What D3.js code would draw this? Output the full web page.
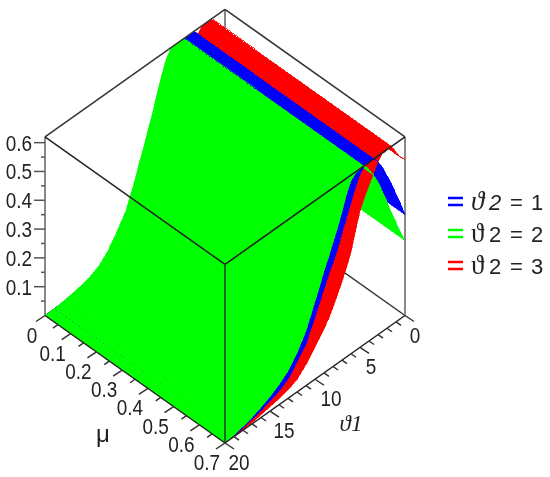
<!DOCTYPE html>
<html>
<head>
<meta charset="utf-8">
<style>
  html, body { margin: 0; padding: 0; background: #fff; }
  svg { display: block; filter: blur(0.4px); }
  .tick { font-family: "Liberation Sans", sans-serif; font-size: 22px; fill: #222; }
  .legend-text { font-family: "Liberation Sans", sans-serif; font-size: 22px; fill: #222; }
</style>
<script src="https://cdn.jsdelivr.net/npm/d3@7"></script>
</head>
<body>
<div id="viz"></div>
<script>
const theta1 = [0, 0.5, 1, 1.5, 2, 2.5, 3, 3.5, 4, 4.5, 5, 5.5, 6, 6.5, 7, 7.5, 8, 8.5, 9, 9.5, 10, 11, 12, 13, 14, 15, 16, 17, 18, 19, 20];
const blueZ = [0.35, 0.40, 0.445, 0.49, 0.53, 0.57, 0.60, 0.62, 0.62, 0.62, 0.60, 0.567, 0.525, 0.484, 0.443, 0.396, 0.36, 0.328, 0.29, 0.253, 0.215, 0.143, 0.103, 0.066, 0.047, 0.034, 0.024, 0.015, 0.008, 0.003, 0];
const blueZMu0 = [0.35, 0.40, 0.445, 0.49, 0.53, 0.57, 0.60, 0.62, 0.62, 0.62, 0.60, 0.567, 0.525, 0.484, 0.443, 0.396, 0.36, 0.328, 0.29, 0.253, 0.215, 0.143, 0.103, 0.06, 0.032, 0.02, 0.012, 0.007, 0.003, 0.0007, 0];
// green bends a little differently at the two ends of mu
const greenZ = [0.26, 0.30, 0.345, 0.39, 0.44, 0.485, 0.53, 0.565, 0.595, 0.617, 0.62, 0.615, 0.60, 0.565, 0.515, 0.47, 0.43, 0.39, 0.353, 0.31, 0.27, 0.19, 0.135, 0.095, 0.07, 0.05, 0.035, 0.022, 0.013, 0.005, 0];
const greenZMu0 = [0.26, 0.30, 0.345, 0.39, 0.44, 0.485, 0.53, 0.565, 0.595, 0.617, 0.62, 0.62, 0.618, 0.595, 0.55, 0.50, 0.445, 0.395, 0.345, 0.30, 0.25, 0.165, 0.115, 0.07, 0.04, 0.024, 0.015, 0.009, 0.004, 0.001, 0];
const redZ = [0.54, 0.56, 0.59, 0.62, 0.62, 0.62, 0.60, 0.57, 0.54, 0.51, 0.473, 0.415, 0.352, 0.31, 0.272, 0.238, 0.205, 0.175, 0.153, 0.132, 0.113, 0.073, 0.043, 0.029, 0.021, 0.015, 0.009, 0.004, 0.002, 0.001, 0];

const muTicks = [0, 0.1, 0.2, 0.3, 0.4, 0.5, 0.6, 0.7];
const muMinor = [0.05, 0.15, 0.25, 0.35, 0.45, 0.55, 0.65];
const thetaTicks = [0, 5, 10, 15, 20];
const thetaMinor = [1, 2, 3, 4, 6, 7, 8, 9, 11, 12, 13, 14, 16, 17, 18, 19];
const zTicks = [0.1, 0.2, 0.3, 0.4, 0.5, 0.6];
const zMinor = [0.05, 0.15, 0.25, 0.35, 0.45, 0.55];
const legendValues = ["1", "2", "3"];
const legendColors = ["#0000ff", "#00ff00", "#ff0000"];

const width = 550, height = 477;
const svg = d3.select("#viz").append("svg")
  .attr("width", width)
  .attr("height", height)
  .attr("viewBox", `0 0 ${width} ${height}`);

// back corner of the floor is mu=0, theta1=0
const muX = d3.scaleLinear().domain([0, 0.7]).range([0, 180]);
const muY = d3.scaleLinear().domain([0, 0.7]).range([0, 127.5]);
const thX = d3.scaleLinear().domain([0, 20]).range([0, -180]);
const thY = d3.scaleLinear().domain([0, 20]).range([0, 127.5]);
const zY = d3.scaleLinear().domain([0, 0.62]).range([0, -178.6]);
const project = (mu, th, z) => [225 + muX(mu) + thX(th), 188 + muY(mu) + thY(th) + zY(z)];

const zTop = 0.62;
const line = d3.line();
const edge = (g, a, b, color, w) => g.append("path")
  .attr("d", line([project(...a), project(...b)]))
  .attr("fill", "none")
  .attr("stroke", color)
  .attr("stroke-width", w);

// box lines behind the surfaces
const back = svg.append("g");
edge(back, [0, 0, 0], [0, 0, zTop], "#888", 2);
edge(back, [0, 0, 0], [0.7, 0, 0], "#333", 1.5);
edge(back, [0, 0, 0], [0, 20, 0], "#333", 1.5);
edge(back, [0, 20, 0], [0, 20, zTop], "#888", 2);
edge(back, [0.7, 0, 0], [0.7, 0, zTop], "#888", 2);

// strips of all three surfaces, painted from the back to the front
const series = [
  {color: "#ff0000", z0: redZ, z7: redZ},
  {color: "#0000ff", z0: blueZMu0, z7: blueZ},
  {color: "#00ff00", z0: greenZMu0, z7: greenZ}
];
const strips = [];
series.forEach(s => {
  d3.pairs(d3.range(theta1.length)).forEach(([i, j]) => {
    strips.push({i, j, mean: (s.z7[i] + s.z7[j]) / 2, color: s.color, s});
  });
});
strips.sort((a, b) => d3.ascending(a.i, b.i) || d3.ascending(a.mean, b.mean));

svg.append("g").selectAll("path")
  .data(strips)
  .join("path")
    .attr("d", d => line([
      project(0, theta1[d.i], d.s.z0[d.i]),
      project(0.7, theta1[d.i], d.s.z7[d.i]),
      project(0.7, theta1[d.j], d.s.z7[d.j]),
      project(0, theta1[d.j], d.s.z0[d.j])
    ]) + "Z")
    .attr("fill", d => d.color)
    .attr("stroke", d => d.color)
    .attr("stroke-width", 0.6)
    .attr("shape-rendering", "crispEdges");

// box lines in front
const front = svg.append("g");
edge(front, [0, 0, zTop], [0.7, 0, zTop], "#333", 1.5);
edge(front, [0, 0, zTop], [0, 20, zTop], "#333", 1.5);
edge(front, [0, 20, zTop], [0.7, 20, zTop], "#222", 1.5);
edge(front, [0.7, 0, zTop], [0.7, 20, zTop], "#222", 1.5);
edge(front, [0.7, 20, 0], [0.7, 20, zTop], "#1d6b1d", 2);
edge(front, [0, 20, 0], [0.7, 20, 0], "#222", 1.5);
edge(front, [0.7, 0, 0], [0.7, 20, 0], "#222", 1.5);

// axis ticks
const axes = svg.append("g");
const tickAt = (pt, dx, dy, color) => axes.append("path")
  .attr("d", line([pt, [pt[0] + dx, pt[1] + dy]]))
  .attr("stroke", color)
  .attr("stroke-width", 1.5);

zTicks.forEach(z => tickAt(project(0, 20, z), -11, 0, "#555"));
zMinor.forEach(z => tickAt(project(0, 20, z), -4, 0, "#555"));
muTicks.forEach(m => tickAt(project(m, 20, 0), -9, 6, "#333"));
muMinor.forEach(m => tickAt(project(m, 20, 0), -5, 3.5, "#333"));
thetaTicks.forEach(t => tickAt(project(0.7, t, 0), 9, 6, "#333"));
thetaMinor.forEach(t => tickAt(project(0.7, t, 0), 5, 3.5, "#333"));

// the reference digits are narrow and tall, so squeeze them a bit
const squeeze = function(sel) {
  sel.attr("lengthAdjust", "spacingAndGlyphs")
    .attr("textLength", function() { return this.getComputedTextLength() * 0.86; });
};
const label = (x, y, s, anchor) => svg.append("text")
  .attr("class", "tick")
  .attr("x", x)
  .attr("y", y)
  .attr("text-anchor", anchor || "middle")
  .text(s);

zTicks.forEach(z => {
  const p = project(0, 20, z);
  label(p[0] - 13, p[1] + 8, z.toFixed(1), "end").call(squeeze);
});
muTicks.forEach(m => {
  const p = project(m, 20, 0);
  label(p[0] + (m === 0 ? -13 : -18), p[1] + 27, m === 0 ? "0" : m.toFixed(1)).call(squeeze);
});
thetaTicks.forEach(t => {
  const p = project(0.7, t, 0);
  label(p[0] + (t === 0 ? 10 : t === 5 ? 11 : t === 10 ? 16 : 14), p[1] + 27, String(t)).call(squeeze);
});

label(103, 442, "\u03BC").style("font-size", "24px");
label(351, 431, "\u03D11")
  .style("font-family", "'Liberation Serif', serif")
  .style("font-style", "italic")
  .style("font-size", "23px");

// legend
legendColors.forEach((color, i) => {
  const y = 198 + i * 32;
  [0, 7].forEach(off => {
    svg.append("line")
      .attr("x1", 448).attr("x2", 463)
      .attr("y1", y + off).attr("y2", y + off)
      .attr("stroke", color)
      .attr("stroke-width", 2.5);
  });
  const t = svg.append("text")
    .attr("class", "legend-text")
    .attr("y", y + 12);
  t.append("tspan").attr("x", 471)
    .style("font-family", "'Liberation Serif', serif")
    .style("font-style", i === 0 ? "italic" : "normal")
    .style("font-size", "27px")
    .text("\u03D1");
  t.append("tspan").attr("x", 489)
    .style("font-style", i === 0 ? "italic" : "normal")
    .text("2");
  t.append("tspan").attr("x", 510).text("=");
  t.append("tspan").attr("x", 531).text(legendValues[i]);
});
</script>
</body>
</html>
